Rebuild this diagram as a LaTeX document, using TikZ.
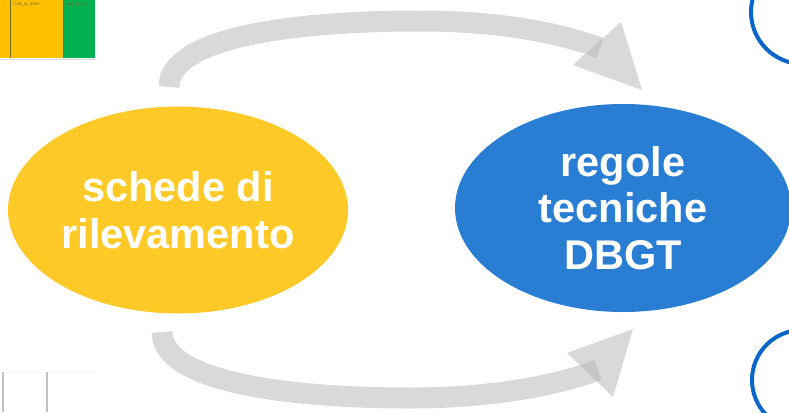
\documentclass[tikz,border=0pt]{standalone}
\usepackage{fontspec}
\setmainfont{Liberation Sans}
\usetikzlibrary{shapes.geometric}
\definecolor{yel}{RGB}{255,202,40}
\definecolor{blu}{RGB}{41,125,210}
\definecolor{arr}{RGB}{179,179,179}
\definecolor{ring}{RGB}{10,102,200}
\definecolor{xlyel}{RGB}{255,192,0}
\definecolor{xlgrn}{RGB}{0,176,80}
\definecolor{xlline}{RGB}{120,110,40}
\definecolor{xlsep}{RGB}{215,215,215}
\definecolor{gridc}{RGB}{195,195,195}
\definecolor{gridf}{RGB}{246,246,246}
\tikzset{
  blob/.style={ellipse, inner sep=0pt, text=white, align=center,
    font=\bfseries\fontsize{41.5}{46.5}\selectfont},
  shaft/.style={draw=arr, line width=21pt, line cap=butt, draw opacity=0.5},
  head/.style={fill=arr, fill opacity=0.5, draw=none},
  ringline/.style={draw=ring, line width=4pt},
  gridline/.style={draw=gridc, line width=2pt},
}
\begin{document}
\begin{tikzpicture}[x=1pt,y=-1pt]
\useasboundingbox (0,0) rectangle (789,412);
% spreadsheet fragment
\fill[xlyel] (0,0) rectangle (63,58);
\fill[xlgrn] (63,0) rectangle (95,58);
\draw[xlline, line width=0.8pt] (10,0) -- (10,58);
\draw[xlline, line width=0.8pt] (63,0) -- (63,58);
\draw[xlsep, line width=1pt] (0,59.5) -- (95,59.5);
\node[font=\fontsize{4.5}{5}\selectfont, text=xlline, anchor=west, inner sep=0pt] (c1) at (13,4.5) {Cod\_ut\_elem};
\node[font=\fontsize{4.5}{5}\selectfont, text=xlline, anchor=west, inner sep=0pt] (c2) at (65,4.5) {Cod\_tip\_el};
% bottom-left grid fragment
\draw[gridf, line width=1pt] (0,372) -- (95,372);
\draw[gridline] (3,372) -- (3,412);
\draw[gridline] (47,372) -- (47,412);
% rings on the right
\draw[ringline] (803,12) circle (52);
\draw[ringline] (802,380) circle (50);
% ellipses
\node[blob, fill=yel, minimum width=340pt, minimum height=207pt] (sch) at (178,210) {schede di\\rilevamento};
\node[blob, fill=blu, minimum width=336pt, minimum height=208pt] (reg) at (623,208) {regole\\tecniche\\DBGT};
% arrows
\coordinate (ts) at (169,87);
\coordinate (te) at (600,48);
\coordinate (bs) at (162,332);
\coordinate (be) at (598,370);
\draw[shaft] (ts) .. controls (169,38) and (290,21) .. (420,21) .. controls (500,21) and (560,33) .. (te);
\fill[head] (573,65) -- (621,22) -- (642,90) -- cycle;
\draw[shaft] (bs) .. controls (162,380) and (280,398) .. (410,398) .. controls (490,398) and (555,386) .. (be);
\fill[head] (567,353) -- (633,329) -- (613,397) -- cycle;
\end{tikzpicture}
\end{document}
